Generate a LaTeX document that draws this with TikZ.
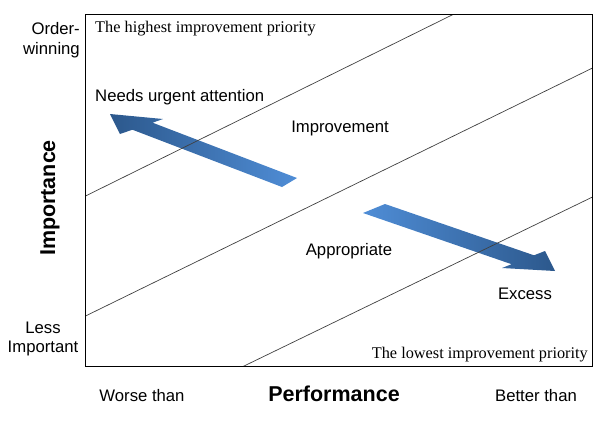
\documentclass[tikz,border=0pt]{standalone}
\usepackage{fontspec}
\setmainfont{Liberation Serif}
\setsansfont{Liberation Sans}
\usepackage{xcolor}
\usetikzlibrary{positioning}

\definecolor{arrowlight}{RGB}{79,141,214}
\definecolor{arrowdark}{RGB}{44,88,140}

\begin{document}
\begin{tikzpicture}[
  x=1pt, y=-1pt,
  sanstext/.style={font=\sffamily\fontsize{16.7}{19.5}\selectfont, inner sep=0pt},
  axistitle/.style={font=\sffamily\bfseries\fontsize{21.5}{24}\selectfont, inner sep=0pt},
  zone/.style={font=\rmfamily\fontsize{16.3}{18}\selectfont, inner sep=0pt},
  framebox/.style={line width=1.6pt},
  divider/.style={line width=0.7pt, black!75},
]
\useasboundingbox (0,0) rectangle (600,424);

% Plot area corners
\coordinate (tl) at (85.5,14.5);
\coordinate (br) at (592.5,366.5);

% Shaded block arrow toward "Needs urgent attention"
\coordinate (a1tip) at (110,114);
\coordinate (a1b1)  at (163,119);
\coordinate (a1n1)  at (152.6,122.7);
\coordinate (a1t1)  at (297,178);
\coordinate (a1t2)  at (282,187);
\coordinate (a1n2)  at (132.4,129.7);
\coordinate (a1b2)  at (120,134);
\shade[left color=arrowdark, right color=arrowlight]
  (a1tip) -- (a1b1) -- (a1n1) -- (a1t1) -- (a1t2) -- (a1n2) -- (a1b2) -- cycle;

% Shaded block arrow toward "Excess"
\coordinate (a2tip) at (555,271);
\coordinate (a2b1)  at (545,251);
\coordinate (a2n1)  at (534,255.3);
\coordinate (a2t1)  at (385,204);
\coordinate (a2t2)  at (363,213);
\coordinate (a2n2)  at (511.6,264.2);
\coordinate (a2b2)  at (502,268);
\shade[left color=arrowlight, right color=arrowdark]
  (a2tip) -- (a2b1) -- (a2n1) -- (a2t1) -- (a2t2) -- (a2n2) -- (a2b2) -- cycle;

% Zone dividers
\coordinate (d1a) at (85.5,196);  \coordinate (d1b) at (453,14.5);
\coordinate (d2a) at (85.5,316);  \coordinate (d2b) at (592.5,68);
\coordinate (d3a) at (243,366.5); \coordinate (d3b) at (592.5,197);
\foreach \d in {d1,d2,d3} {\draw[divider] (\d a) -- (\d b);}

% Frame
\draw[framebox] (tl) rectangle (br);

% Zone texts
\node[zone, anchor=west] (highest) at (95,29) {The highest improvement priority};
\node[zone, anchor=east] (lowest) at (588,355) {The lowest improvement priority};
\node[sanstext, anchor=west] (urgent) at (95,97) {Needs urgent attention};
\node[sanstext] (improve) at (340,128) {Improvement};
\node[sanstext] (approp) at (349,251) {Appropriate};
\node[sanstext] (excess) at (525,294) {Excess};

% Axis texts
\node[sanstext, align=right, anchor=east] (orderwin) at (80,40) {Order-\\winning};
\node[sanstext, align=center] (lessimp) at (43,339) {Less\\Important};
\node[axistitle, rotate=90] (importance) at (50,198) {Importance};
\node[sanstext] (worse) at (142,396) {Worse than};
\node[axistitle] (performance) at (334,394) {Performance};
\node[sanstext] (better) at (536,396) {Better than};

\end{tikzpicture}
\end{document}
